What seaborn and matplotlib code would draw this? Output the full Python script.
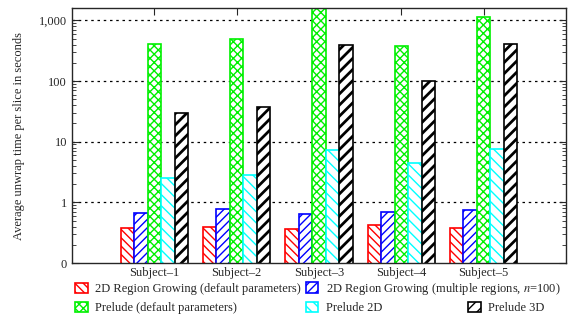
import pandas as pd
import seaborn as sns
import matplotlib.pyplot as plt
from matplotlib.ticker import FixedLocator, LogLocator, NullFormatter

# values (seconds per slice)
subjects = ['Subject\u20131', 'Subject\u20132', 'Subject\u20133', 'Subject\u20134', 'Subject\u20135']
methods = ['2D Region Growing (default parameters)',
           '2D Region Growing (multiple regions, $n$=100)',
           'Prelude (default parameters)',
           'Prelude 2D',
           'Prelude 3D']
rg_default = [0.385, 0.40, 0.366, 0.42, 0.385]
rg_multi = [0.66, 0.79, 0.64, 0.70, 0.76]
prelude_default = [408, 500, 1700, 385, 1150]
prelude_2d = [2.56, 2.80, 7.3, 4.4, 7.5]
prelude_3d = [29.3, 36.8, 389, 100, 408]

colors = ['#ff0000', '#0000ff', '#00f000', '#00ffff', '#000000']
hatches = ['\\\\\\\\', '////', 'xxxx', '\\\\\\', '///']

rows = []
for m, vals in zip(methods, [rg_default, rg_multi, prelude_default, prelude_2d, prelude_3d]):
    for s, v in zip(subjects, vals):
        rows.append({'subject': s, 'method': m, 'time': v})
df = pd.DataFrame(rows)

sns.set_style('ticks')
plt.rcParams['font.family'] = ['Liberation Serif', 'DejaVu Serif']
plt.rcParams['mathtext.fontset'] = 'stix'
plt.rcParams['hatch.linewidth'] = 1.0

fig = plt.figure(figsize=(5.73, 3.2), dpi=100)
ax = fig.add_axes([0.1257, 0.178, 0.862, 0.797])

sns.barplot(data=df, x='subject', y='time', hue='method', order=subjects,
            hue_order=methods, palette=colors, width=0.82, ax=ax,
            legend=False, errorbar=None)

for i, (cont, c, h) in enumerate(zip(ax.containers, colors, hatches)):
    for p in cont:
        p.set_facecolor('white')
        p.set_edgecolor(c)
        p.set_hatch(h)
        p.set_linewidth(1.2)
        # the Prelude 3D bars use a heavier hatch
        if i == 4 and hasattr(p, 'set_hatch_linewidth'):
            p.set_hatch_linewidth(2.0)

ax.set_yscale('log')
ax.set_ylim(0.1, 1600)
ax.set_xlim(-1, 5)
ax.yaxis.set_major_locator(FixedLocator([0.1, 1, 10, 100, 1000]))
ax.set_yticklabels(['0', '1', '10', '100', '1,000'])
ax.yaxis.set_minor_locator(LogLocator(base=10, subs=(2, 3, 4, 5, 6, 7, 8, 9)))
ax.yaxis.set_minor_formatter(NullFormatter())
ax.tick_params(axis='y', which='both', direction='in', left=True, right=True, labelsize=9)
ax.tick_params(axis='y', which='major', length=5)
ax.tick_params(axis='y', which='minor', length=3)
ax.tick_params(axis='x', direction='in', top=True, bottom=False, length=5, labelsize=9, pad=3)

for y in [1, 10, 100, 1000]:
    ax.axhline(y, color='black', linestyle=(0, (2, 3)), linewidth=0.9, zorder=0)

for sp in ax.spines.values():
    sp.set_visible(True)
    sp.set_linewidth(1.0)

ax.set_xlabel('')
ax.set_ylabel('Average unwrap time per slice in seconds', fontsize=9, labelpad=10)

# gnuplot-style key laid out under the plot
handles = [cont[0] for cont in ax.containers]
spots = [(0.131, 0.097), (0.534, 0.097), (0.131, 0.0375), (0.534, 0.0375), (0.817, 0.0375)]
for hnd, lab, (x, y) in zip(handles, methods, spots):
    fig.legend([hnd], [lab], loc='center left', bbox_to_anchor=(x, y),
               frameon=False, fontsize=9, borderpad=0, borderaxespad=0,
               handlelength=1.0, handleheight=0.9, handletextpad=0.6)

plt.savefig('out.png', dpi=100)
